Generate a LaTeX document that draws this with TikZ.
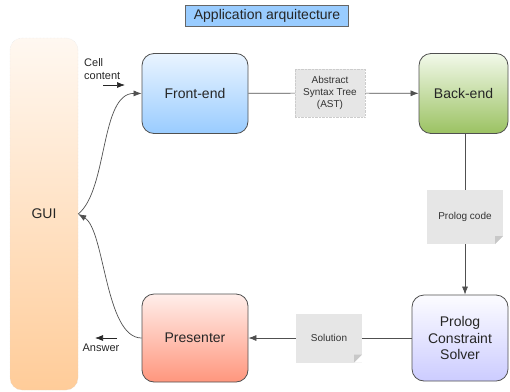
\documentclass[tikz,border=0pt]{standalone}
\usepackage{fontspec}
\setmainfont{Liberation Sans}
\usetikzlibrary{arrows.meta}
\definecolor{titleblue}{RGB}{153,204,255}
\definecolor{guitop}{RGB}{255,248,241}
\definecolor{guibot}{RGB}{255,204,153}
\definecolor{fronttop}{RGB}{234,244,255}
\definecolor{frontbot}{RGB}{153,204,255}
\definecolor{backtop}{RGB}{242,249,234}
\definecolor{backbot}{RGB}{155,194,98}
\definecolor{soltop}{RGB}{252,252,255}
\definecolor{solbot}{RGB}{204,204,255}
\definecolor{prestop}{RGB}{255,238,234}
\definecolor{presbot}{RGB}{255,150,125}
\definecolor{notegray}{RGB}{230,230,230}
\definecolor{foldgray}{RGB}{200,200,200}
\definecolor{linegray}{RGB}{80,80,80}
\begin{document}
\begin{tikzpicture}[x=1pt,y=-1pt,
	block/.style={draw=linegray, line width=0.8pt, rounded corners=12pt, inner sep=1pt,
		minimum width=106pt, minimum height=80pt, align=center,
		font=\fontsize{14}{16.5}\selectfont, text=black!85},
	note/.style={fill=notegray, inner sep=1pt, align=center,
		font=\fontsize{10}{12}\selectfont, text=black!80,
		path picture={
			\fill[white] (path picture bounding box.south east) -- ++(-8pt,0pt) -- ++(8pt,8pt) -- cycle;
			\fill[foldgray] (path picture bounding box.south east) ++(-8pt,0pt) -- ++(8pt,8pt) -- ++(-8pt,0pt) -- cycle;}},
	lbl/.style={inner sep=0pt, font=\fontsize{11}{13}\selectfont, text=black!85},
	link/.style={draw=linegray, line width=0.7pt},
	tip/.style={-{Latex[length=8pt,width=6pt]}}]
	\useasboundingbox (0,0) rectangle (510,391);
	% title
	\node[draw=black!60, fill=titleblue, minimum width=163pt, minimum height=21pt, inner sep=1pt,
		font=\fontsize{14}{16}\selectfont, text=black!85] (title) at (267,15.5) {Application arquitecture};
	% blocks
	\node[draw=black!15, densely dotted, top color=guitop, bottom color=guibot, rounded corners=12pt,
		minimum width=68pt, minimum height=352pt, font=\fontsize{14}{16}\selectfont, text=black!85] (gui) at (44,214) {GUI};
	\node[block, top color=fronttop, bottom color=frontbot] (front) at (195,93.5) {Front-end};
	\node[block, minimum width=89pt, top color=backtop, bottom color=backbot] (back) at (463.5,93.5) {Back-end};
	\node[block, minimum width=96pt, minimum height=86pt, top color=soltop, bottom color=solbot] (solver) at (460,338) {Prolog\\Constraint\\Solver};
	\node[block, minimum height=88pt, top color=prestop, bottom color=presbot] (pres) at (195,338) {Presenter};
	% data passed between blocks
	\node[fill=notegray, draw=black!20, densely dotted, minimum width=70pt, minimum height=48pt, inner sep=1pt,
		align=center, font=\fontsize{10}{12}\selectfont, text=black!80] (ast) at (330,93) {Abstract\\Syntax Tree\\(AST)};
	\node[note, minimum width=76pt, minimum height=54pt] (code) at (465,217) {Prolog code};
	\node[note, minimum width=66pt, minimum height=49pt] (sol) at (329,338) {Solution};
	% connectors
	\draw[link] (front) -- (ast);
	\draw[link, tip] (ast) -- (back);
	\draw[link] (code.north |- back.south) -- (code);
	\draw[link, tip] (code) -- (code.south |- solver.north);
	\draw[link] (solver) -- (sol);
	\draw[link, tip] (sol) -- (pres);
	\draw[link, tip] (pres.west) .. controls (105,338) and (105,230) .. (gui.east);
	\draw[link, tip] (gui.east) .. controls (108,190) and (100,93) .. (front.west);
	% user input / output
	\node[lbl, anchor=west, align=left] (cell) at (84,69) {Cell\\content};
	\coordinate (cellA) at (103,85);
	\coordinate (cellB) at (125,85);
	\draw[black!85, line width=0.7pt, tip] (cellA) -- (cellB);
	\node[lbl] (answer) at (101,348) {Answer};
	\coordinate (ansA) at (117,338);
	\coordinate (ansB) at (95,338);
	\draw[black!85, line width=0.7pt, tip] (ansA) -- (ansB);
\end{tikzpicture}
\end{document}
